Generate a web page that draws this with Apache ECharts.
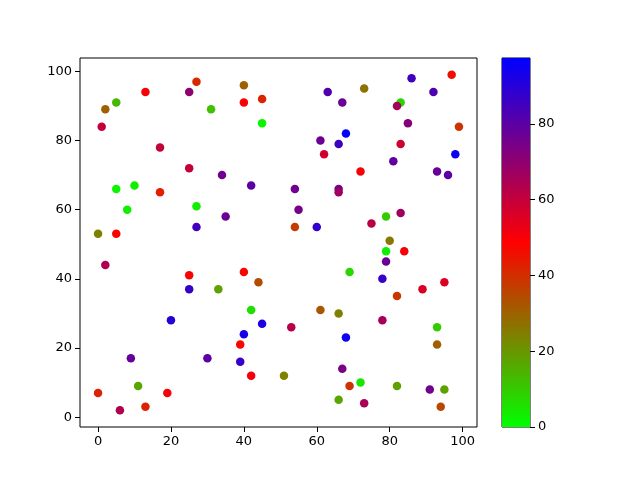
<!DOCTYPE html>
<html>
<head>
<meta charset="utf-8">
<script src="https://cdn.jsdelivr.net/npm/echarts@6/dist/echarts.min.js"></script>
<style>html,body{margin:0;padding:0;background:#fff}#c{width:640px;height:480px}</style>
</head>
<body>
<div id="c"></div>
<script>
const xs = [0,0,1,2,2,5,5,5,6,8,9,10,11,13,13,17,17,19,20,25,25,25,25,27,27,27,30,31,33,34,35,39,39,40,40,40,40,42,42,42,44,45,45,45,51,53,54,54,55,60,61,61,62,63,66,66,66,66,66,67,67,68,68,69,69,72,72,73,73,75,78,78,79,79,79,80,81,83,82,82,82,83,83,84,85,86,89,91,92,93,93,93,94,95,95,96,97,98,99];
const ys = [53,7,84,89,44,91,66,53,2,60,17,67,9,94,3,78,65,7,28,94,72,41,37,97,61,55,17,89,37,70,58,21,16,96,91,42,24,67,31,12,39,92,85,27,12,26,66,55,60,55,80,31,76,94,79,66,65,30,5,91,14,82,23,9,42,71,10,95,4,56,40,28,58,48,45,51,74,91,90,35,9,79,59,48,85,98,37,8,94,71,26,21,3,39,8,70,99,76,84];
const cs = [24,42,60,30,64,14,2,48,64,3,78,3,17,50,42,60,43,50,90,70,60,49,87,41,3,85,80,12,18,76,77,48,87,30,49,48,93,80,6,51,34,42,2,92,24,62,76,37,75,88,77,32,58,82,86,75,67,24,17,77,74,97,95,39,8,50,5,27,65,62,87,66,10,3,77,26,79,8,66,38,18,58,67,50,72,85,56,76,83,78,10,31,35,55,18,80,46,95,39];
const xTicks = [0,20,40,60,80,100];
const yTicks = [0,20,40,60,80,100];
const cTicks = [0,20,40,60,80];
const cMin = 0, cMax = 97.4;
const cmap = ['#00ff00','#ff0000','#0000ff'];

const pts = xs.map((x,i)=>[x, ys[i], cs[i]]);
const font = {fontFamily:'DejaVu Sans', fontSize:13, color:'#000'};
const xMin = Math.min(...xs), xMax = Math.max(...xs);
const yMin = Math.min(...ys), yMax = Math.max(...ys);
const xPad = (xMax-xMin)*0.05, yPad = (yMax-yMin)*0.05;

const chart = echarts.init(document.getElementById('c'), null, {renderer:'canvas'});
chart.setOption({
  animation:false,
  backgroundColor:'#fff',
  grid:[
    {left:80, top:58, width:397, height:369, show:true, borderColor:'#000', borderWidth:1, backgroundColor:'transparent'},
    {left:502, top:58, width:28, height:369, show:true, borderColor:'#000', borderWidth:1, backgroundColor:'transparent'}
  ],
  xAxis:[
    {type:'value', gridIndex:0, min:xMin-xPad, max:xMax+xPad,
     axisLine:{show:false, onZero:false}, splitLine:{show:false},
     axisTick:{show:true, inside:false, length:5, lineStyle:{color:'#000'}, customValues:xTicks},
     axisLabel:Object.assign({margin:8, customValues:xTicks}, font)},
    {type:'category', gridIndex:1, data:['c'], show:false, boundaryGap:true}
  ],
  yAxis:[
    {type:'value', gridIndex:0, min:yMin-yPad, max:yMax+yPad,
     axisLine:{show:false, onZero:false}, splitLine:{show:false},
     axisTick:{show:true, inside:false, length:5, lineStyle:{color:'#000'}, customValues:yTicks},
     axisLabel:Object.assign({margin:8, customValues:yTicks}, font)},
    {type:'value', gridIndex:1, position:'right', min:cMin, max:cMax,
     axisLine:{show:false, onZero:false}, splitLine:{show:false},
     axisTick:{show:true, inside:false, length:5, lineStyle:{color:'#000'}, customValues:cTicks},
     axisLabel:Object.assign({margin:8, customValues:cTicks}, font)}
  ],
  visualMap:{type:'continuous', show:false, min:cMin, max:cMax, dimension:2, seriesIndex:0, inRange:{color:cmap}},
  series:[
    {type:'scatter', xAxisIndex:0, yAxisIndex:0, data:pts, symbolSize:8.5, itemStyle:{opacity:1}},
    {type:'bar', xAxisIndex:1, yAxisIndex:1, data:[cMax], barWidth:'100%', silent:true,
     itemStyle:{color:new echarts.graphic.LinearGradient(0,0,0,1,[
       {offset:0,color:cmap[2]},{offset:0.5,color:cmap[1]},{offset:1,color:cmap[0]}])}}
  ]
});
</script>
</body>
</html>
